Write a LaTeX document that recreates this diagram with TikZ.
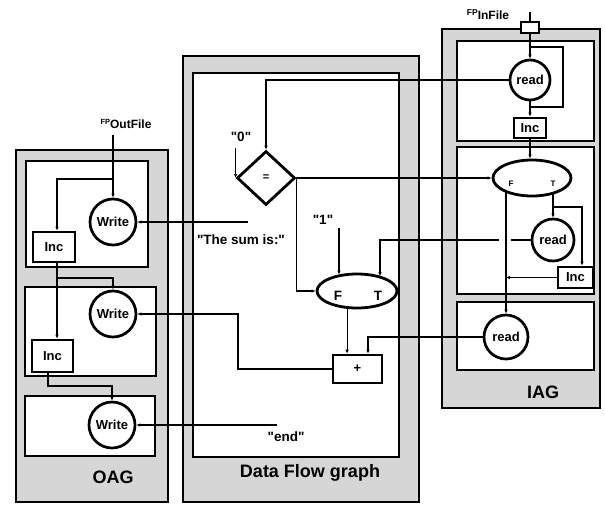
\documentclass[tikz,border=0pt]{standalone}
\usepackage{fontspec}
\setmainfont{Liberation Sans}
\newfontfamily\qfont{Liberation Sans}
\usetikzlibrary{shapes.geometric,arrows.meta,calc}
\begin{document}
\begin{tikzpicture}[x=1pt,y=-1pt,
  panel/.style={draw=black,line width=2pt,fill=black!16},
  innerbox/.style={draw=black,line width=1.4pt,fill=white},
  conn/.style={line width=1.1pt},
  arr/.style={conn,-{Latex[length=4pt,width=3.5pt]}},
  opnode/.style={circle,draw,line width=2.7pt,fill=white,minimum size=46pt,inner sep=0pt,font=\bfseries\fontsize{13}{13}\selectfont},
  incbox/.style={rectangle,draw,line width=2.6pt,fill=white,inner sep=0pt,font=\bfseries\fontsize{13}{13}\selectfont},
  lab/.style={font=\qfont\bfseries\fontsize{13.5}{13.5}\selectfont,inner sep=0pt},
  smalllab/.style={font=\bfseries\fontsize{8}{8}\selectfont,inner sep=0pt},
  paneltitle/.style={font=\bfseries\fontsize{18}{18}\selectfont,inner sep=0pt}
]
\useasboundingbox (0,0) rectangle (605,504);

% panels
\draw[panel] (16,150) rectangle (168,502);
\draw[panel] (183,56) rectangle (419,502);
\draw[panel] (442,29) rectangle (600,408);
% inner boxes
\draw[innerbox] (26,161) rectangle (148,267);
\draw[innerbox] (25,287) rectangle (156,376);
\draw[innerbox] (25,396) rectangle (155,456);
\draw[innerbox] (193,73) rectangle (399,457);
\draw[innerbox] (457,41) rectangle (594,141);
\draw[innerbox] (457,147) rectangle (594,294);
\draw[innerbox] (457,302) rectangle (594,370);

% titles
\node[paneltitle] (tOAG) at (113,477) {OAG};
\node[paneltitle] (tDFG) at (310,473) {Data Flow graph};
\node[paneltitle] (tIAG) at (543,392) {IAG};

% OAG nodes
\node[opnode] (oagW1) at (113,222) {Write};
\node[opnode] (oagW2) at (113,314) {Write};
\node[opnode] (oagW3) at (112,425) {Write};
\node[incbox,minimum width=42pt,minimum height=30pt] (oagI1) at (54,247) {Inc};
\node[incbox,minimum width=41pt,minimum height=32pt] (oagI2) at (52.5,356) {Inc};
\node[lab,font=\bfseries\fontsize{12}{12}\selectfont] (fpo) at (126,124) {\raisebox{4pt}{\fontsize{7.5}{7.5}\selectfont FP}OutFile};

% DFG nodes
\node[diamond,draw,line width=2.8pt,fill=white,minimum width=58pt,minimum height=54pt,inner sep=0pt,font=\bfseries\fontsize{11}{11}\selectfont] (dfgEq) at (266,178) {=};
\node[lab] (zero) at (241,137) {"0"};
\node[lab] (one) at (323,220) {"1"};
\node[lab] (sum) at (241,240) {"The sum is:"};
\node[lab] (endl) at (286,437) {"end"};
\node[ellipse,draw,line width=2.8pt,fill=white,minimum width=80pt,minimum height=34pt,inner sep=0pt] (dfgFT) at (357,291) {};
\node[lab] (dF) at (338,296) {F};
\node[lab] (dT) at (378,296) {T};
\node[incbox,minimum width=49pt,minimum height=28pt] (plus) at (357.5,369) {+};

% IAG nodes
\node[draw,line width=1.6pt,fill=white,minimum width=18pt,minimum height=11pt,inner sep=0pt] (iagSq) at (530,27.5) {};
\node[lab,font=\bfseries\fontsize{12}{12}\selectfont] (fpi) at (488,15) {\raisebox{4pt}{\fontsize{8.5}{8.5}\selectfont FP}InFile};
\node[opnode,minimum size=40pt] (iagR1) at (530,80) {read};
\node[incbox,minimum width=32pt,minimum height=20pt] (iagI1) at (530,128) {Inc};
\node[ellipse,draw,line width=2.8pt,fill=white,minimum width=78pt,minimum height=36pt,inner sep=0pt] (iagE) at (532,178) {};
\node[smalllab] (iF) at (511,184) {F};
\node[smalllab] (iT) at (553,184) {T};
\node[opnode,minimum size=42pt] (iagR2) at (553,240) {read};
\node[incbox,minimum width=35pt,minimum height=21pt] (iagI2) at (575.5,277.5) {Inc};
\node[opnode,minimum size=44pt] (iagR3) at (506,337) {read};

% ---- connectors ----
% OAG
\coordinate (fpoTop) at (113,135);
\coordinate (fpoBr) at (113,179);
\draw[arr] (fpoTop) -- (oagW1.north);
\draw[arr] (fpoBr) -| ([xshift=3pt]oagI1.north);
\coordinate (sumEnd) at (248,222);
\draw[arr] (sumEnd) -- (oagW1.east);
\draw[arr] ([xshift=3pt]oagI1.south) -- ([xshift=3pt]oagI1.south |- oagI2.north);
\coordinate (i1br) at (57,278);
\draw[arr] (i1br) -| (oagW2.north);
\coordinate (i2b) at (48,386);
\draw[arr] ([xshift=-4.5pt]oagI2.south) -- (i2b) -| (oagW3.north);
\coordinate (pb1) at (238,369);
\coordinate (pb2) at (238,314);
\draw[arr] (plus.west) -- (pb1) -- (pb2) -- (oagW2.east);
\coordinate (endEnd) at (277,425);
\draw[arr] (endEnd) -- (oagW3.east);

% DFG
\coordinate (r1b) at (266,80);
\draw[arr] (iagR1.west) -- (r1b) -- (dfgEq.north);
\coordinate (z0) at (237,148);
\draw[arr] (dfgEq.west |- z0) -- (dfgEq.west);
\draw[arr] (dfgEq.east) -- (iagE.west);
\draw[arr] (dfgEq.east) |- (dfgFT.west);
\coordinate (o1) at (339,228);
\draw[arr] (o1) -- (o1 |- dfgFT.140);
\coordinate (gR) at (511,240);
\coordinate (gL) at (499,240);
\coordinate (tc) at (380,240);
\draw[conn] (iagR2.west) -- (gR);
\draw[arr] (gL) -- (tc) -- (tc |- dfgFT.31);
\draw[arr] (dfgFT.241) -- (dfgFT.241 |- plus.north);
\coordinate (r3b) at (368,337);
\draw[arr] (iagR3.west) -- (r3b) -- (r3b |- plus.north);

% IAG
\coordinate (sqTop) at (530,12);
\draw[conn] (sqTop) -- (iagSq.north);
\draw[arr] (iagSq.south) -- (iagR1.north);
\coordinate (lp1) at (530,47);
\coordinate (lp2) at (563,47);
\coordinate (lp3) at (563,107);
\coordinate (lp4) at (530,107);
\draw[conn] (lp1) -- (lp2) -- (lp3) -- (lp4);
\draw[arr] (iagR1.south) -- (iagI1.north);
\draw[arr] (iagI1.south) -- (iagI1.south |- iagE.north);
\draw[arr] (iagR3.north |- iagE.207) -- (iagR3.north);
\draw[arr] (iagR2.north |- iagE.324) -- (iagR2.north);
\coordinate (tb1) at (553,207);
\coordinate (tb2) at (582,207);
\draw[arr] (tb1) -- (tb2) -- (tb2 |- iagI2.north);
\draw[arr] (iagI2.west) -- (iagI2.west -| iagR3.north);
\end{tikzpicture}
\end{document}
